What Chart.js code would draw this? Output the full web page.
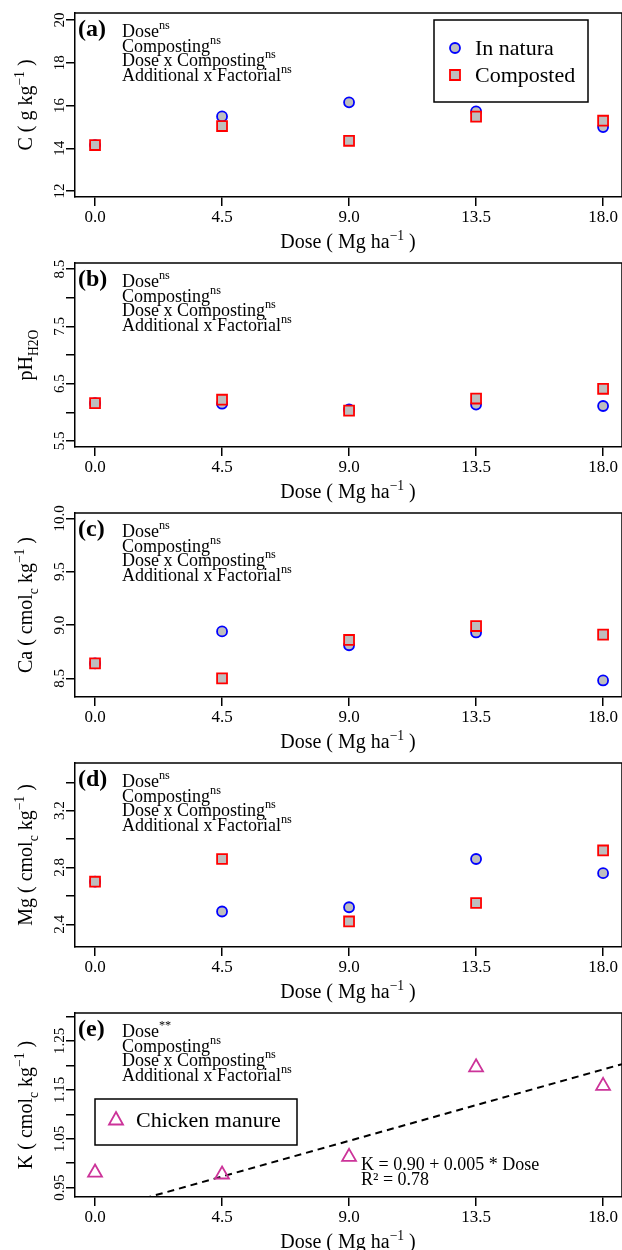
<!DOCTYPE html>
<html>
<head>
<meta charset="utf-8">
<script src="https://cdn.jsdelivr.net/npm/chart.js@4.4.1/dist/chart.umd.min.js"></script>
<style>
body{margin:0;background:#fff;}
#wrap{position:relative;width:622px;height:1250px;overflow:hidden;background:#fff;}
#wrap canvas{position:absolute;left:0;}
</style>
</head>
<body>
<div id="wrap">
<canvas id="pa" width="622" height="256" style="top:0px"></canvas>
<canvas id="pb" width="622" height="256" style="top:250px"></canvas>
<canvas id="pc" width="622" height="256" style="top:500px"></canvas>
<canvas id="pd" width="622" height="256" style="top:750px"></canvas>
<canvas id="pe" width="622" height="256" style="top:1000px"></canvas>
</div>
<script>
// doses (Mg ha-1)
const doses = [0, 4.5, 9, 13.5, 18];
const doseTicks = [0, 4.5, 9, 13.5, 18];

// (a) C
const cNatura = [14.15, 15.49, 16.15, 15.73, 14.99];
const cComposted = [14.15, 15.04, 14.35, 15.48, 15.29];
const cTicks = [12, 14, 16, 18, 20];
const cTickLabels = ['12', '14', '16', '18', '20'];

// (b) pH
const phNatura = [6.16, 6.15, 6.05, 6.135, 6.11];
const phComposted = [6.16, 6.22, 6.03, 6.24, 6.41];
const phTicks = [5.5, 6, 6.5, 7, 7.5, 8, 8.5];
const phTickLabels = ['5.5', '', '6.5', '', '7.5', '', '8.5'];

// (c) Ca
const caNatura = [8.64, 8.94, 8.81, 8.93, 8.48];
const caComposted = [8.64, 8.50, 8.86, 8.99, 8.91];
const caTicks = [8.5, 9, 9.5, 10];
const caTickLabels = ['8.5', '9.0', '9.5', '10.0'];

// (d) Mg
const mgNatura = [2.70, 2.49, 2.52, 2.86, 2.76];
const mgComposted = [2.70, 2.86, 2.42, 2.55, 2.92];
const mgTicks = [2.4, 2.6, 2.8, 3.0, 3.2, 3.4];
const mgTickLabels = ['2.4', '', '2.8', '', '3.2', ''];

// (e) K
const kChicken = [0.981, 0.977, 1.013, 1.196, 1.158];
const kTicks = [0.95, 1.0, 1.05, 1.1, 1.15, 1.2, 1.25, 1.3];
const kTickLabels = ['0.95', '', '1.05', '', '1.15', '', '1.25', ''];
const kFitA = 0.90;
const kFitB = 0.0162;

const xMin = -0.71, xMax = 18.67;
const serif = '"Liberation Serif", "Times New Roman", serif';

const effects = ['Dose', 'Composting', 'Dose x Composting', 'Additional x Factorial'];

function pts(ys){
return doses.map((d, i) => ({x: d, y: ys[i]}));
}

function naturaSet(ys){
return {label:'In natura', data:pts(ys), pointStyle:'circle', pointRadius:5, borderColor:'#0000ff', backgroundColor:'#bebebe', borderWidth:1.8, order:2};
}
function compSet(ys){
return {label:'Composted', data:pts(ys), pointStyle:'rect', pointRadius:7, borderColor:'#ff0000', backgroundColor:'#bebebe', borderWidth:1.8, order:1};
}

// text with sup/sub parts
function richWidth(ctx, parts, size){
let w = 0;
parts.forEach(p => {
const s = p[1] ? size * 0.68 : size;
ctx.font = s + 'px ' + serif;
w += ctx.measureText(p[0]).width;
});
return w;
}
function drawRich(ctx, parts, x, y, size, align){
let cx = x;
if (align === 'center') cx = x - richWidth(ctx, parts, size) / 2;
ctx.textAlign = 'left';
ctx.textBaseline = 'alphabetic';
parts.forEach(p => {
const s = p[1] ? size * 0.68 : size;
ctx.font = s + 'px ' + serif;
let dy = 0;
if (p[1] === 'sup') dy = -size * 0.42;
if (p[1] === 'sub') dy = size * 0.28;
ctx.fillText(p[0], cx, y + dy);
cx += ctx.measureText(p[0]).width;
});
}

function drawMarker(ctx, kind, x, y){
ctx.save();
ctx.lineWidth = 1.8;
ctx.beginPath();
if (kind === 'circle'){
ctx.arc(x, y, 5, 0, Math.PI * 2);
ctx.fillStyle = '#bebebe'; ctx.strokeStyle = '#0000ff';
ctx.fill(); ctx.stroke();
} else if (kind === 'rect'){
ctx.rect(x - 5, y - 5, 10, 10);
ctx.fillStyle = '#bebebe'; ctx.strokeStyle = '#ff0000';
ctx.fill(); ctx.stroke();
} else {
ctx.moveTo(x, y - 8);
ctx.lineTo(x + 7, y + 4.5);
ctx.lineTo(x - 7, y + 4.5);
ctx.closePath();
ctx.strokeStyle = '#cc3399';
ctx.stroke();
}
ctx.restore();
}

const decor = {
id: 'decor',
afterDraw(chart, args, o){
const ctx = chart.ctx;
const a = chart.chartArea;
const ys = chart.scales.y;
ctx.save();
// box top and right
ctx.strokeStyle = '#000';
ctx.lineWidth = 1.5;
ctx.beginPath();
ctx.moveTo(a.left, a.top);
ctx.lineTo(a.right, a.top);
ctx.lineTo(a.right, a.bottom);
ctx.stroke();

ctx.fillStyle = '#000';
// y tick labels, vertical like R
ctx.font = '15px ' + serif;
ctx.textAlign = 'center';
ctx.textBaseline = 'middle';
o.ticks.forEach((t, i) => {
if (!o.tickLabels[i]) return;
ctx.save();
ctx.translate(60, ys.getPixelForValue(t));
ctx.rotate(-Math.PI / 2);
ctx.fillText(o.tickLabels[i], 0, 0);
ctx.restore();
});

// y title
ctx.save();
ctx.translate(32, (a.top + a.bottom) / 2);
ctx.rotate(-Math.PI / 2);
drawRich(ctx, o.yTitle, 0, 0, 20, 'center');
ctx.restore();

// x title
drawRich(ctx, [['Dose ( Mg ha', ''], ['\u22121', 'sup'], [' )', '']], 348, 248, 20, 'center');

// panel letter
ctx.font = 'bold 24px ' + serif;
ctx.textAlign = 'left';
ctx.textBaseline = 'alphabetic';
ctx.fillText(o.letter, 78, 36);

// significance lines
effects.forEach((e, i) => {
drawRich(ctx, [[e, ''], [o.signif[i], 'sup']], 122, 37 + i * 14.5, 18, 'left');
});

// legend
if (o.legend){
const L = o.legend;
ctx.lineWidth = 1.5;
ctx.strokeStyle = '#000';
ctx.strokeRect(L.x, L.y, L.w, L.h);
L.items.forEach((it, i) => {
const cy = L.y + L.first + i * L.step;
drawMarker(ctx, it.kind, L.x + 21, cy);
ctx.fillStyle = '#000';
ctx.font = '22px ' + serif;
ctx.textAlign = 'left';
ctx.textBaseline = 'alphabetic';
ctx.fillText(it.text, L.x + 41, cy + 7);
});
}

// equation
if (o.equation){
ctx.fillStyle = '#000';
ctx.font = '18px ' + serif;
ctx.textAlign = 'left';
ctx.textBaseline = 'alphabetic';
o.equation.forEach((line, i) => ctx.fillText(line, 361, 170 + i * 15));
}
ctx.restore();
}
};

function makePanel(id, datasets, yMin, yMax, yTicks, deco){
new Chart(document.getElementById(id), {
type: 'scatter',
data: { datasets: datasets },
options: {
responsive: false,
animation: false,
events: [],
layout: { autoPadding: false, padding: { top: 13, left: 0, right: 0, bottom: 0 } },
plugins: {
legend: { display: false },
tooltip: { enabled: false },
decor: Object.assign({ ticks: yTicks }, deco)
},
scales: {
x: {
type: 'linear',
min: xMin,
max: xMax,
afterBuildTicks: s => { s.ticks = doseTicks.map(v => ({ value: v })); },
afterFit: s => { s.height = 59; s.paddingLeft = 0; s.paddingRight = 0; },
grid: { drawOnChartArea: false, drawTicks: true, tickLength: 9, color: '#000', lineWidth: 1.5 },
border: { display: true, color: '#000', width: 1.5 },
ticks: {
color: '#000',
font: { family: serif, size: 17 },
padding: 1,
maxRotation: 0,
autoSkip: false,
callback: v => Number(v).toFixed(1)
}
},
y: {
type: 'linear',
min: yMin,
max: yMax,
afterBuildTicks: s => { s.ticks = yTicks.map(v => ({ value: v })); },
afterFit: s => { s.width = 75; s.paddingTop = 0; s.paddingBottom = 0; },
grid: { drawOnChartArea: false, drawTicks: true, tickLength: 9, color: '#000', lineWidth: 1.5 },
border: { display: true, color: '#000', width: 1.5 },
ticks: { display: false }
}
}
},
plugins: [decor]
});
}

const ns = ['ns', 'ns', 'ns', 'ns'];
const twoLegend = { x: 434, y: 20, w: 154, h: 82, first: 28, step: 27,
items: [{ kind: 'circle', text: 'In natura' }, { kind: 'rect', text: 'Composted' }] };

makePanel('pa', [naturaSet(cNatura), compSet(cComposted)], 11.72, 20.33, cTicks, {
tickLabels: cTickLabels, letter: '(a)', signif: ns, legend: twoLegend,
yTitle: [['C ( g kg', ''], ['\u22121', 'sup'], [' )', '']]
});

makePanel('pb', [naturaSet(phNatura), compSet(phComposted)], 5.395, 8.605, phTicks, {
tickLabels: phTickLabels, letter: '(b)', signif: ns,
yTitle: [['pH', ''], ['H2O', 'sub']]
});

makePanel('pc', [naturaSet(caNatura), compSet(caComposted)], 8.325, 10.05, caTicks, {
tickLabels: caTickLabels, letter: '(c)', signif: ns,
yTitle: [['Ca ( cmol', ''], ['c', 'sub'], [' kg', ''], ['\u22121', 'sup'], [' )', '']]
});

makePanel('pd', [naturaSet(mgNatura), compSet(mgComposted)], 2.24, 3.536, mgTicks, {
tickLabels: mgTickLabels, letter: '(d)', signif: ns,
yTitle: [['Mg ( cmol', ''], ['c', 'sub'], [' kg', ''], ['\u22121', 'sup'], [' )', '']]
});

makePanel('pe', [
{ label: 'Chicken manure', data: pts(kChicken), pointStyle: 'triangle', pointRadius: 8, borderColor: '#cc3399', backgroundColor: 'rgba(0,0,0,0)', borderWidth: 1.8, order: 1 },
{ type: 'line', label: 'fit', data: [{ x: xMin, y: kFitA + kFitB * xMin }, { x: xMax, y: kFitA + kFitB * xMax }],
borderColor: '#000', borderWidth: 2, borderDash: [7, 5], pointRadius: 0, fill: false, order: 2 }
], 0.931, 1.307, kTicks, {
tickLabels: kTickLabels, letter: '(e)', signif: ['**', 'ns', 'ns', 'ns'],
legend: { x: 95, y: 99, w: 202, h: 46, first: 21, step: 0, items: [{ kind: 'tri', text: 'Chicken manure' }] },
equation: ['K = 0.90 + 0.005 * Dose', 'R\u00b2 = 0.78'],
yTitle: [['K ( cmol', ''], ['c', 'sub'], [' kg', ''], ['\u22121', 'sup'], [' )', '']]
});
</script>
</body>
</html>
